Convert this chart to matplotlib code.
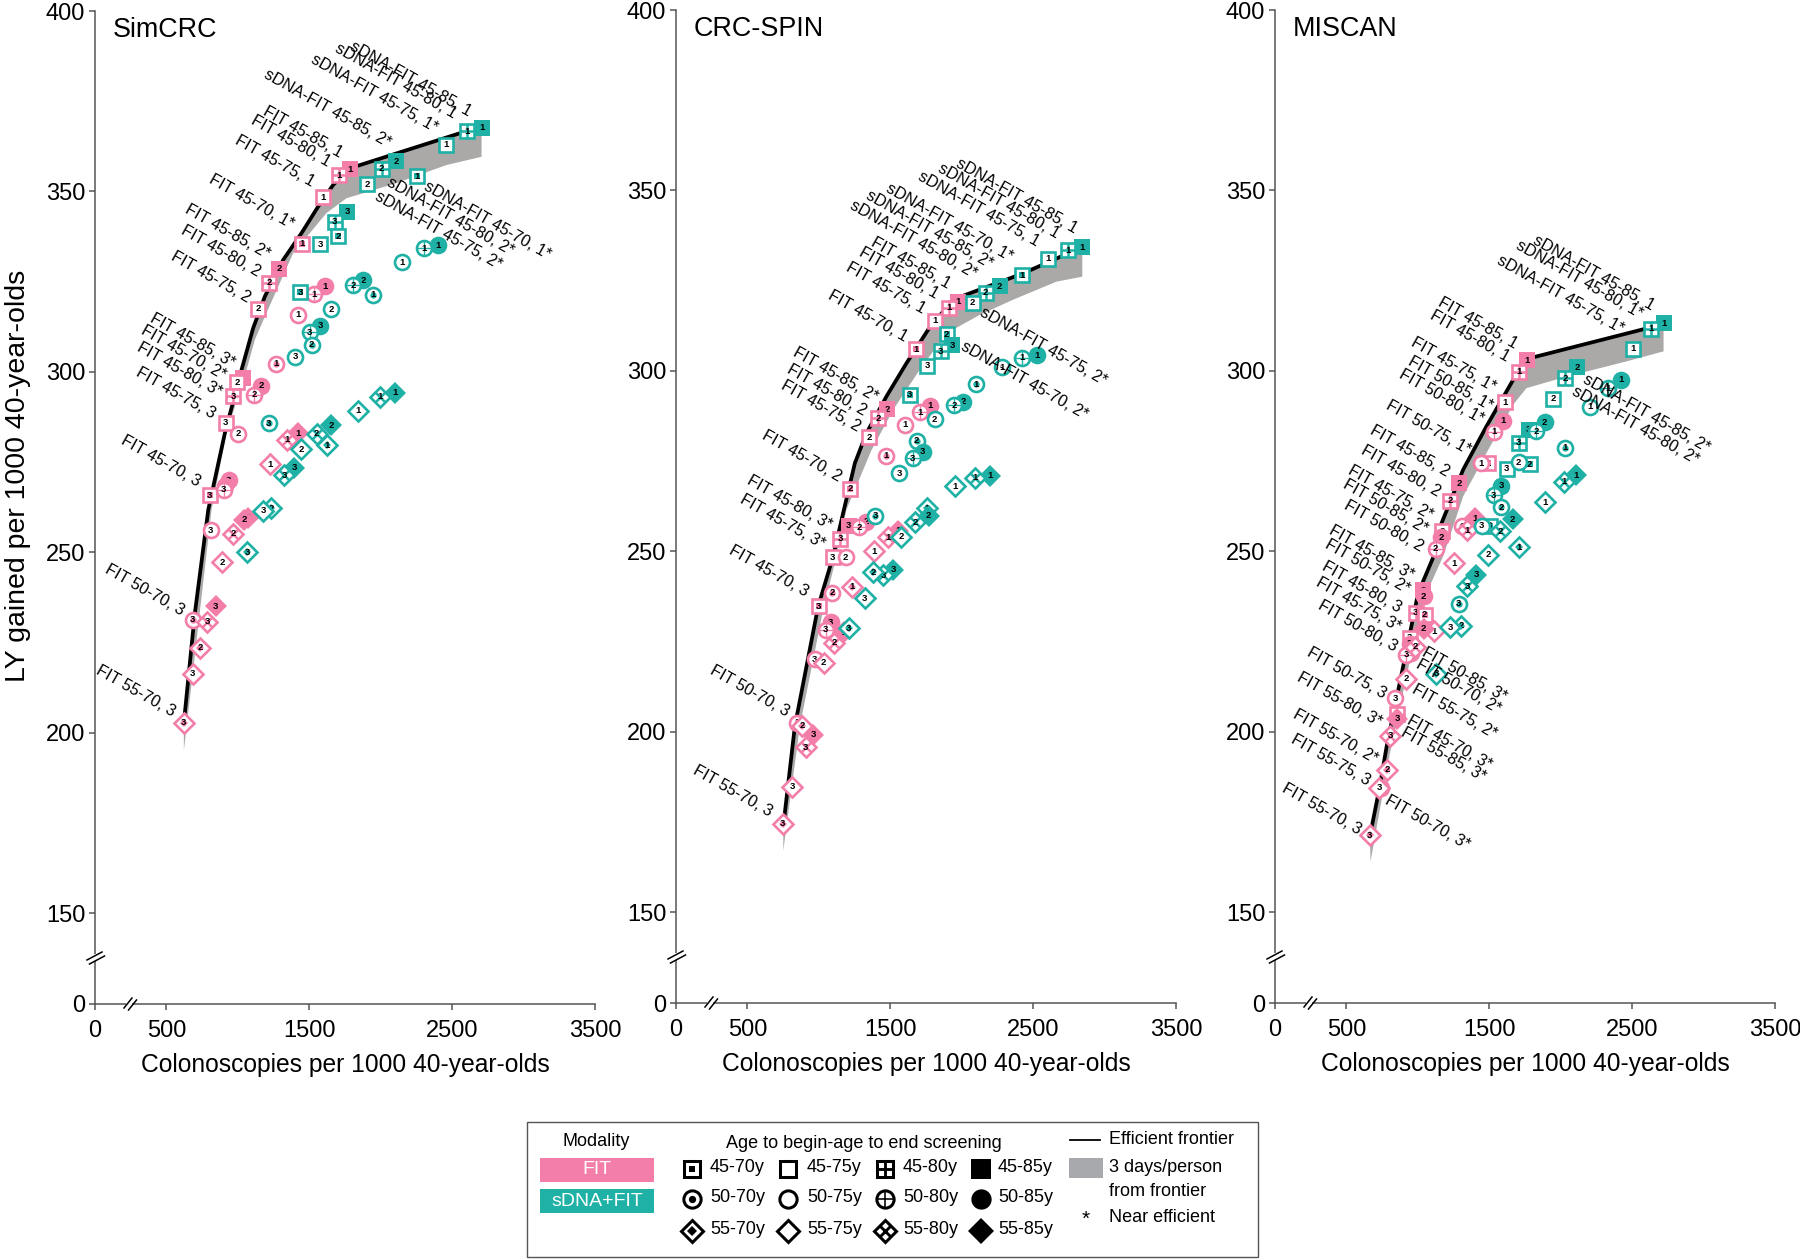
import matplotlib
matplotlib.use('Agg')
import matplotlib.pyplot as plt
from matplotlib.patches import Rectangle
import numpy as np

plt.rcParams['font.family'] = ['Liberation Sans', 'DejaVu Sans']

PINK = '#F27EA9'
TEAL = '#1FB1A5'
BAND = '#ABA8A8'
AXIS = '#555555'

# values are (colonoscopies, LY gained), same order in every list of a panel
simcrc_x = [2706, 2606, 2455, 2254, 2107, 2007, 1904, 1765, 1678, 1704, 1578, 1436,
            2403, 2305, 2149, 1949, 1876, 1809, 1655, 1578, 1503, 1517, 1401, 1217,
            2100, 1995, 1844, 1627, 1655, 1552, 1445, 1396, 1326, 1233, 1177, 1065,
            1783, 1709, 1594, 1448, 1289, 1219, 1140, 1035, 995, 967, 914, 804,
            1608, 1534, 1420, 1268, 1163, 1112, 1002, 935, 909, 900, 811, 683,
            1422, 1343, 1226, 1072, 1042, 967, 890, 846, 786, 737, 685, 622]
simcrc_y = [367.7, 366.7, 362.9, 354.2, 358.4, 356.3, 352.0, 344.4, 341.6, 337.6, 335.3, 322.1,
            335.1, 334.2, 330.3, 321.4, 325.4, 324.0, 317.3, 312.8, 310.9, 307.5, 304.2, 285.8,
            294.2, 293.1, 289.2, 279.6, 285.2, 282.9, 278.6, 273.4, 271.4, 262.2, 261.5, 250.0,
            356.2, 354.5, 348.4, 335.5, 328.5, 324.7, 317.5, 298.2, 297.1, 293.2, 285.9, 265.8,
            323.7, 321.5, 315.8, 302.2, 296.2, 293.7, 282.8, 269.9, 268.4, 267.3, 256.1, 231.3,
            283.0, 281.2, 274.4, 259.6, 259.0, 255.1, 247.2, 235.0, 230.7, 223.5, 216.3, 202.7]
simcrc_test = ['sDNA'] * 36 + ['FIT'] * 36
simcrc_age = ('45-85 45-80 45-75 45-70 45-85 45-80 45-75 45-85 45-80 45-70 45-75 45-70 '
              '50-85 50-80 50-75 50-70 50-85 50-80 50-75 50-85 50-80 50-70 50-75 50-70 '
              '55-85 55-80 55-75 55-70 55-85 55-80 55-75 55-85 55-80 55-70 55-75 55-70 '
              '45-85 45-80 45-75 45-70 45-85 45-80 45-75 45-85 45-75 45-80 45-75 45-70 '
              '50-85 50-80 50-75 50-70 50-85 50-80 50-75 50-85 50-85 50-80 50-75 50-70 '
              '55-85 55-80 55-75 55-85 55-85 55-80 55-75 55-85 55-80 55-70 55-75 55-70').split()
simcrc_n = [1, 1, 1, 1, 2, 2, 2, 3, 3, 2, 3, 3,
            1, 1, 1, 1, 2, 2, 2, 3, 3, 2, 3, 3,
            1, 1, 1, 1, 2, 2, 2, 3, 3, 2, 3, 3,
            1, 1, 1, 1, 2, 2, 2, 3, 2, 3, 3, 3,
            1, 1, 1, 1, 2, 2, 2, 3, 2, 3, 3, 3,
            1, 1, 1, 1, 2, 2, 2, 3, 3, 2, 3, 3]
simcrc_front_x = [622, 699, 793, 909, 1026, 1107, 1189, 1317, 1445, 1562, 1667, 1783, 2552, 2706]
simcrc_front_y = [202.7, 233.1, 261.8, 283.0, 300.6, 312.1, 320.9, 331.0, 338.4, 345.8, 351.8, 356.4, 366.1, 367.7]
simcrc_low_x = [2706, 2459, 2110, 1760, 1620, 1387, 1200, 1119, 1061, 921, 816, 622]
simcrc_low_y = [359.6, 357.3, 352.3, 348.1, 344.0, 332.9, 316.3, 308.9, 300.6, 283.0, 261.8, 195.0]
simcrc_lab = ['sDNA-FIT 45-85, 1', 'sDNA-FIT 45-80, 1', 'sDNA-FIT 45-75, 1*', 'sDNA-FIT 45-85, 2*',
              'FIT 45-85, 1', 'FIT 45-80, 1', 'FIT 45-75, 1', 'FIT 45-70, 1*', 'FIT 45-85, 2*',
              'FIT 45-80, 2', 'FIT 45-75, 2', 'FIT 45-85, 3*', 'FIT 45-70, 2*', 'FIT 45-80, 3*',
              'FIT 45-75, 3', 'FIT 45-70, 3', 'FIT 50-70, 3', 'FIT 55-70, 3']
simcrc_lab_x = [2627, 2524, 2389, 2063, 1725, 1643, 1527, 1382, 1219, 1149, 1079, 972, 909, 879, 832, 730, 618, 552]
simcrc_lab_y = [371.7, 371.2, 367.5, 363.2, 360.4, 357.8, 352.3, 340.7, 332.4, 327.5, 320.2, 302.2, 298.7, 294.1, 288.1, 269.2, 233.6, 205.4]
simcrc_rlab = ['sDNA-FIT 45-70, 1*', 'sDNA-FIT 45-80, 2*', 'sDNA-FIT 45-75, 2*']
simcrc_rlab_x = [2308, 2051, 1965]
simcrc_rlab_y = [351.8, 352.7, 349.0]

spin_x = [2844, 2744, 2604, 2420, 2266, 2168, 2077, 1895, 1932, 1853, 1760, 1636,
          2525, 2420, 2282, 2098, 2009, 1946, 1811, 1685, 1727, 1657, 1564, 1396,
          2198, 2093, 1951, 1758, 1769, 1674, 1578, 1520, 1450, 1380, 1322, 1210,
          1974, 1911, 1811, 1683, 1478, 1417, 1350, 1221, 1210, 1151, 1098, 998,
          1776, 1706, 1606, 1473, 1329, 1280, 1187, 1093, 1082, 1047, 970, 848,
          1555, 1485, 1385, 1235, 1175, 1105, 1033, 960, 883, 909, 813, 746]
spin_y = [334.3, 333.4, 331.1, 326.5, 323.5, 321.7, 318.9, 310.2, 307.1, 305.4, 301.4, 293.4,
          304.3, 303.6, 301.0, 296.3, 291.4, 290.5, 286.6, 280.6, 277.6, 275.8, 271.6, 259.9,
          270.9, 270.3, 268.0, 261.9, 259.9, 258.1, 254.0, 244.9, 243.3, 244.2, 237.0, 228.6,
          319.2, 317.5, 313.9, 306.0, 289.4, 286.8, 281.6, 267.3, 257.1, 253.5, 248.3, 234.7,
          290.3, 288.5, 285.0, 276.5, 258.2, 256.7, 248.4, 238.5, 230.3, 228.2, 220.1, 202.4,
          255.7, 253.9, 250.0, 240.2, 227.6, 224.6, 219.1, 199.1, 201.7, 195.7, 184.8, 174.5]
spin_test = ['sDNA'] * 36 + ['FIT'] * 36
spin_age = ('45-85 45-80 45-75 45-70 45-85 45-80 45-75 45-70 45-85 45-80 45-75 45-70 '
            '50-85 50-80 50-75 50-70 50-85 50-80 50-75 50-70 50-85 50-80 50-75 50-70 '
            '55-85 55-80 55-75 55-70 55-85 55-80 55-75 55-85 55-80 55-70 55-75 55-70 '
            '45-85 45-80 45-75 45-70 45-85 45-80 45-75 45-70 45-85 45-80 45-75 45-70 '
            '50-85 50-80 50-75 50-70 50-85 50-80 50-75 50-70 50-85 50-80 50-75 50-70 '
            '55-85 55-80 55-75 55-70 55-85 55-80 55-75 55-85 55-70 55-80 55-75 55-70').split()
spin_n = [1, 1, 1, 1, 2, 2, 2, 2, 3, 3, 3, 3,
          1, 1, 1, 1, 2, 2, 2, 2, 3, 3, 3, 3,
          1, 1, 1, 1, 2, 2, 2, 3, 3, 2, 3, 3,
          1, 1, 1, 1, 2, 2, 2, 2, 3, 3, 3, 3,
          1, 1, 1, 1, 2, 2, 2, 2, 3, 3, 3, 3,
          1, 1, 1, 1, 2, 2, 2, 3, 2, 3, 3, 3]
spin_front_x = [751, 832, 995, 1100, 1170, 1252, 1333, 1473, 1613, 1765, 1869, 1963, 2429, 2844]
spin_front_y = [173.8, 201.5, 234.7, 248.6, 260.6, 274.4, 282.7, 292.9, 302.1, 311.4, 316.4, 320.1, 327.0, 334.3]
spin_low_x = [2844, 2662, 2359, 2126, 1893, 1706, 1520, 1368, 1193, 1124, 1030, 867, 751]
spin_low_y = [326.1, 324.7, 319.7, 315.5, 310.4, 300.3, 289.2, 278.0, 261.5, 248.6, 233.8, 201.5, 167.0]
spin_lab = ['sDNA-FIT 45-85, 1', 'sDNA-FIT 45-80, 1', 'sDNA-FIT 45-75, 1', 'sDNA-FIT 45-70, 1*',
            'sDNA-FIT 45-85, 2*', 'sDNA-FIT 45-80, 2*', 'FIT 45-85, 1', 'FIT 45-80, 1', 'FIT 45-75, 1',
            'FIT 45-70, 1', 'FIT 45-85, 2*', 'FIT 45-80, 2', 'FIT 45-75, 2', 'FIT 45-70, 2',
            'FIT 45-80, 3*', 'FIT 45-75, 3*', 'FIT 45-70, 3', 'FIT 50-70, 3', 'FIT 55-70, 3']
spin_lab_x = [2802, 2674, 2534, 2347, 2207, 2098, 1911, 1830, 1741, 1613, 1403, 1322, 1282, 1151, 1082, 1035, 921, 786, 664]
spin_lab_y = [339.1, 337.7, 335.4, 331.2, 329.4, 326.6, 323.8, 321.1, 316.9, 309.0, 292.4, 288.7, 284.1, 270.3, 256.9, 251.8, 238.4, 205.2, 177.5]
spin_rlab = ['sDNA-FIT 45-75, 2*', 'sDNA-FIT 45-70, 2*']
spin_rlab_x = [2138, 2005]
spin_rlab_y = [316.4, 307.2]

miscan_x = [2720, 2634, 2508, 2117, 2033, 1949, 1776, 1706, 1783, 1622, 1503,
            2420, 2331, 2205, 2033, 1888, 1828, 1706, 1585, 1531, 1585, 1448, 1287,
            2110, 2023, 1893, 1706, 1664, 1578, 1490, 1410, 1347, 1305, 1226, 1130,
            1767, 1706, 1613, 1492, 1287, 1228, 1168, 1037, 986, 1047, 944, 851,
            1597, 1534, 1441, 1312, 1165, 1124, 1040, 951, 944, 918, 842, 741,
            1403, 1347, 1254, 1114, 1040, 979, 916, 855, 807, 786, 730, 664]
miscan_y = [313.2, 311.7, 306.1, 301.0, 297.9, 292.2, 283.7, 280.0, 274.1, 272.9, 257.0,
            297.5, 295.2, 290.1, 278.7, 285.7, 283.3, 274.6, 268.1, 265.5, 262.2, 257.1, 235.4,
            271.1, 269.2, 263.6, 251.1, 258.9, 255.5, 249.0, 243.5, 240.3, 229.4, 229.0, 216.0,
            303.0, 299.8, 291.3, 274.4, 268.9, 264.0, 255.5, 239.2, 232.9, 232.4, 226.0, 205.0,
            286.2, 283.1, 274.4, 256.9, 253.9, 250.7, 237.5, 221.8, 224.4, 221.3, 209.3, 184.4,
            259.2, 255.8, 246.7, 227.8, 228.5, 223.6, 214.7, 203.6, 198.9, 189.5, 184.4, 171.3]
miscan_test = ['sDNA'] * 35 + ['FIT'] * 37
miscan_age = ('45-85 45-80 45-75 45-85 45-80 45-75 45-85 45-80 45-70 45-75 45-70 '
              '50-85 50-80 50-75 50-70 50-85 50-80 50-75 50-85 50-80 50-70 50-75 50-70 '
              '55-85 55-80 55-75 55-70 55-85 55-80 55-75 55-85 55-80 55-70 55-75 55-70 '
              '45-85 45-80 45-75 45-70 45-85 45-80 45-75 45-85 45-80 45-70 45-75 45-70 '
              '50-85 50-80 50-75 50-70 50-85 50-80 50-85 50-75 50-85 50-80 50-75 50-70 '
              '55-85 55-80 55-75 55-75 55-85 55-80 55-75 55-85 55-80 55-70 55-75 55-70').split()
miscan_n = [1, 1, 1, 2, 2, 2, 3, 3, 2, 3, 3,
            1, 1, 1, 1, 2, 2, 2, 3, 3, 2, 3, 3,
            1, 1, 1, 1, 2, 2, 2, 3, 3, 2, 3, 3,
            1, 1, 1, 1, 2, 2, 2, 3, 3, 2, 3, 3,
            1, 1, 1, 1, 2, 2, 2, 2, 3, 3, 3, 3,
            1, 1, 1, 1, 2, 2, 2, 3, 3, 2, 3, 3]
miscan_front_x = [664, 734, 781, 921, 1002, 1130, 1166, 1317, 1480, 1667, 1783, 2576, 2720]
miscan_front_y = [171.0, 184.9, 195.8, 222.7, 238.4, 250.4, 257.8, 272.6, 284.6, 297.5, 303.5, 311.5, 313.2]
miscan_low_x = [2720, 2459, 2040, 1760, 1667, 1480, 1317, 1177, 1061, 956, 804, 669]
miscan_low_y = [305.4, 302.6, 298.4, 295.2, 290.6, 277.2, 265.2, 248.6, 238.4, 221.8, 194.0, 164.0]
miscan_lab = ['sDNA-FIT 45-85, 1', 'sDNA-FIT 45-80, 1*', 'sDNA-FIT 45-75, 1*', 'FIT 45-85, 1', 'FIT 45-80, 1',
              'FIT 45-75, 1*', 'FIT 50-85, 1*', 'FIT 50-80, 1*', 'FIT 50-75, 1*', 'FIT 45-85, 2', 'FIT 45-80, 2',
              'FIT 45-75, 2*', 'FIT 50-85, 2*', 'FIT 50-80, 2', 'FIT 45-85, 3*', 'FIT 50-75, 2*', 'FIT 45-80, 3',
              'FIT 45-75, 3*', 'FIT 50-80, 3', 'FIT 50-75, 3', 'FIT 55-80, 3*', 'FIT 55-70, 2*', 'FIT 55-75, 3',
              'FIT 55-70, 3']
miscan_lab_x = [2646, 2564, 2436, 1690, 1632, 1538, 1515, 1457, 1364, 1212, 1149, 1096, 1065, 1033, 967, 939, 879, 874, 846, 774, 739, 711, 660, 594]
miscan_lab_y = [317.8, 315.5, 311.4, 307.2, 303.5, 295.2, 290.1, 286.4, 277.7, 271.7, 266.1, 259.6, 256.0, 250.9, 243.0, 239.3, 234.0, 228.7, 223.2, 210.2, 202.4, 192.2, 186.2, 172.4]
miscan_rlab = ['sDNA-FIT 45-85, 2*', 'sDNA-FIT 45-80, 2*', 'FIT 50-85, 3*', 'FIT 50-70, 2*', 'FIT 55-75, 2*',
               'FIT 45-70, 3*', 'FIT 55-85, 3*', 'FIT 50-70, 3*']
miscan_rlab_x = [2161, 2086, 1037, 995, 967, 932, 893, 781]
miscan_rlab_y = [298.0, 294.7, 222.3, 219.0, 212.1, 203.3, 200.0, 181.2]

x_ticks = [0, 500, 1500, 2500, 3500]
y_ticks = [0, 150, 200, 250, 300, 350, 400]
legend_ages = [['45-70', '45-75', '45-80', '45-85'],
               ['50-70', '50-75', '50-80', '50-85'],
               ['55-70', '55-75', '55-80', '55-85']]


def draw_mark(ax, x, y, age, color, digit=None, z=5, scale=1.0):
    start, end = age.split('-')
    marker = {'45': 's', '50': 'o', '55': 'D'}[start]
    ms = {'s': 10.2, 'o': 10.8, 'D': 9.8}[marker] * scale
    mew = 1.9 * scale
    if end == '85':
        ax.plot([x], [y], marker=marker, ms=ms + mew, mfc=color, mec=color, mew=0, ls='none', zorder=z)
    else:
        ax.plot([x], [y], marker=marker, ms=ms, mfc='white', mec=color, mew=mew, ls='none', zorder=z)
    if end == '70':
        ax.plot([x], [y], marker=marker, ms=ms * 0.42, mfc=color, mec=color, mew=0, ls='none', zorder=z)
    if end == '80':
        cross = {'s': '+', 'o': '+', 'D': 'x'}[marker]
        size = ms if marker != 'D' else ms * 0.72
        ax.plot([x], [y], marker=cross, ms=size, mec=color, mew=(1.0 if marker == 'o' else 1.8) * scale,
                ls='none', zorder=z)
    if digit is not None:
        ax.text(x, y, str(digit), fontsize=6.8, fontweight='bold', ha='center', va='center',
                color='black', zorder=z)


def draw_panel(rect, name, xs, ys, tests, ages, ns, fx, fy, lx, ly, lab, lab_x, lab_y, rlab, rlab_x, rlab_y, ylabel=False):
    left, right, top, bottom = rect
    ax = fig.add_axes([left / 1800, 1 - bottom / 1259, (right - left) / 1800, (bottom - top) / 1259])
    ax.patch.set_alpha(0)
    ax.set_yscale('function', functions=(
        lambda v: np.where(np.asarray(v) < 150, 124.8 + np.asarray(v) * 25.2 / 150, v),
        lambda v: np.where(np.asarray(v) < 150, (np.asarray(v) - 124.8) * 150 / 25.2, v)))
    ax.set_xlim(0, 3500)
    ax.set_ylim(0, 400)
    ax.set_xticks(x_ticks)
    ax.set_yticks(y_ticks)
    ax.minorticks_off()
    ax.tick_params(labelsize=17, length=4, width=1.1, color=AXIS)
    ax.tick_params(axis='x', pad=7.5)
    ax.tick_params(axis='y', pad=3)
    for side in ['top', 'right']:
        ax.spines[side].set_visible(False)
    for side in ['left', 'bottom']:
        ax.spines[side].set_color(AXIS)
        ax.spines[side].set_linewidth(1.1)
    ax.set_xlabel('Colonoscopies per 1000 40-year-olds', fontsize=17.7, labelpad=8)
    if ylabel:
        ax.set_ylabel('LY gained per 1000 40-year-olds', fontsize=20.5, labelpad=11, y=0.532)
    ax.text(0.036, 0.981, name, transform=ax.transAxes, fontsize=19.4, va='center', ha='left')

    ax.fill(np.r_[fx, lx], np.r_[fy, ly], color=BAND, lw=0, zorder=1)
    ax.plot(fx, fy, color='black', lw=2.7, zorder=2, solid_capstyle='butt')
    # FIT goes under sDNA+FIT
    order = [i for i in range(len(xs)) if tests[i] == 'FIT'] + [i for i in range(len(xs)) if tests[i] != 'FIT']
    for k, i in enumerate(order):
        color = PINK if tests[i] == 'FIT' else TEAL
        draw_mark(ax, xs[i], ys[i], ages[i], color, ns[i], z=5 + k * 0.01)
    for txt, tx, ty in zip(lab, lab_x, lab_y):
        ax.text(tx, ty, txt, fontsize=11.7, rotation=-29.5, rotation_mode='anchor', ha='right', va='center', zorder=8)
    for txt, tx, ty in zip(rlab, rlab_x, rlab_y):
        ax.text(tx, ty, txt, fontsize=11.7, rotation=-29.5, rotation_mode='anchor', ha='left', va='center', zorder=8)
    return ax


fig = plt.figure(figsize=(18, 12.59), dpi=100)

# pixel space overlay for the legend and axis breaks
ov = fig.add_axes([0, 0, 1, 1], zorder=20)
ov.set_xlim(0, 1800)
ov.set_ylim(1259, 0)
ov.axis('off')

draw_panel((95, 595, 11, 1004), 'SimCRC', simcrc_x, simcrc_y, simcrc_test, simcrc_age, simcrc_n,
           simcrc_front_x, simcrc_front_y, simcrc_low_x, simcrc_low_y,
           simcrc_lab, simcrc_lab_x, simcrc_lab_y, simcrc_rlab, simcrc_rlab_x, simcrc_rlab_y, ylabel=True)
draw_panel((676, 1176, 10, 1003), 'CRC-SPIN', spin_x, spin_y, spin_test, spin_age, spin_n,
           spin_front_x, spin_front_y, spin_low_x, spin_low_y,
           spin_lab, spin_lab_x, spin_lab_y, spin_rlab, spin_rlab_x, spin_rlab_y)
draw_panel((1275, 1775, 10, 1003), 'MISCAN', miscan_x, miscan_y, miscan_test, miscan_age, miscan_n,
           miscan_front_x, miscan_front_y, miscan_low_x, miscan_low_y,
           miscan_lab, miscan_lab_x, miscan_lab_y, miscan_rlab, miscan_rlab_x, miscan_rlab_y)

# axis break marks
for x0, y0 in [(95, 1004), (676, 1003), (1275, 1003)]:
    ov.add_patch(Rectangle((x0 - 2, y0 - 50), 4, 7, fc='white', ec='none', zorder=1))
    ov.add_patch(Rectangle((x0 + 31, y0 - 2), 6, 4, fc='white', ec='none', zorder=1))
    for dx, dy in [(0, 0), (2.5, 4)]:
        ov.plot([x0 - 8 + dx, x0 + 7 + dx], [y0 - 44 + dy, y0 - 52 + dy], color='black', lw=1.1, zorder=2)
    for dx, dy in [(0, 0), (4.5, 2)]:
        ov.plot([x0 + 29 + dx, x0 + 37 + dx], [y0 + 4 + dy, y0 - 6 + dy], color='black', lw=1.1, zorder=2)

# legend
LEG = 13
ov.add_patch(Rectangle((527, 1122), 731, 135, fc='white', ec='#555555', lw=1.0, zorder=3))
ov.text(596, 1142, 'Modality', fontsize=LEG, ha='center', va='center', zorder=4)
ov.text(864, 1143, 'Age to begin-age to end screening', fontsize=LEG, ha='center', va='center', zorder=4)
ov.add_patch(Rectangle((540, 1158), 114, 24, fc=PINK, ec='none', zorder=4))
ov.add_patch(Rectangle((540, 1189), 114, 24, fc=TEAL, ec='none', zorder=4))
ov.text(597, 1170, 'FIT', fontsize=LEG + 1, color='white', ha='center', va='center', zorder=5)
ov.text(597, 1201, 'sDNA+FIT', fontsize=LEG + 1, color='white', ha='center', va='center', zorder=5)
for row, py in zip(legend_ages, [1169, 1199, 1231]):
    for age, mx, tx in zip(row, [692, 788, 885, 981], [710, 807, 903, 998]):
        draw_mark(ov, mx, py, age, 'black', z=5, scale=1.15)
        ov.text(tx, py - 1, age + 'y', fontsize=LEG, ha='left', va='center', zorder=5)
ov.plot([1070, 1100], [1140, 1140], color='black', lw=1.3, zorder=5)
ov.text(1109, 1140, 'Efficient frontier', fontsize=LEG, ha='left', va='center', zorder=5)
ov.add_patch(Rectangle((1069, 1158), 34, 20, fc='#A7A9AC', ec='none', zorder=4))
ov.text(1109, 1168, '3 days/person', fontsize=LEG, ha='left', va='center', zorder=5)
ov.text(1109, 1191, 'from frontier', fontsize=LEG, ha='left', va='center', zorder=5)
ov.text(1086, 1219, '*', fontsize=15, ha='center', va='center', zorder=5)
ov.text(1109, 1217, 'Near efficient', fontsize=LEG, ha='left', va='center', zorder=5)

fig.savefig('out.png', dpi=100)
